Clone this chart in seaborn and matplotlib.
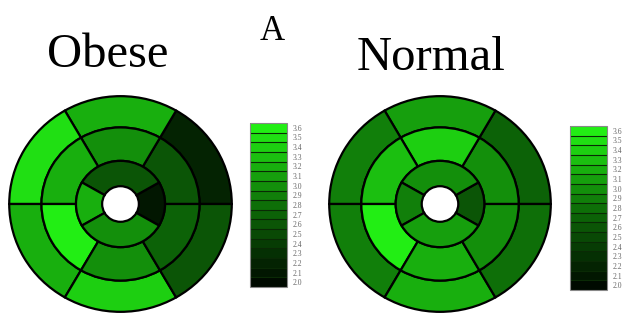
import numpy as np
import matplotlib
matplotlib.use("Agg")
import matplotlib.pyplot as plt
import seaborn as sns
from matplotlib.colors import ListedColormap, BoundaryNorm, LinearSegmentedColormap
from matplotlib.cm import ScalarMappable

sns.set_theme(style="white")
plt.rcParams["font.family"] = ["Liberation Serif", "DejaVu Serif"]

# Segment values, counter-clockwise from 3 o'clock
# outer / middle rings: six 60-degree segments starting at 0 deg
obese_outer = [2.2, 3.2, 3.5, 3.2, 3.4, 2.6]
obese_middle = [2.6, 3.0, 3.2, 3.6, 3.0, 2.7]
# inner ring: right, top, left, bottom
obese_inner = [2.1, 2.6, 3.2, 3.0]

normal_outer = [2.7, 3.1, 2.9, 2.9, 3.2, 2.8]
normal_middle = [3.0, 3.4, 3.3, 3.6, 3.2, 3.0]
normal_inner = [2.6, 3.0, 2.9, 3.1]

groups = ["Obese", "Normal"]
scale_ticks = [round(2.0 + 0.1 * i, 1) for i in range(17)]

# discrete black-to-green scale
base = LinearSegmentedColormap.from_list("bk_green", ["#000a00", "#0e6e08", "#22ee14"])
cmap = ListedColormap([base(i / 16) for i in range(17)])
bounds = np.arange(1.95, 3.66, 0.1)
norm = BoundaryNorm(bounds, cmap.N)

r_hole, r_inner, r_mid, r_out = 0.165, 0.40, 0.71, 1.0
ring_theta = np.deg2rad(np.arange(6) * 60 + 30)
ring_width = np.deg2rad(60)
inner_theta = np.deg2rad([0, 90, 180, 270])
inner_width = np.deg2rad([60, 120, 60, 120])


def bullseye(ax, outer, middle, inner):
    kw = dict(edgecolor="black", linewidth=1.6, align="center")
    ax.bar(ring_theta, r_out - r_mid, width=ring_width, bottom=r_mid,
           color=cmap(norm(outer)), **kw)
    ax.bar(ring_theta, r_mid - r_inner, width=ring_width, bottom=r_inner,
           color=cmap(norm(middle)), **kw)
    ax.bar(inner_theta, r_inner - r_hole, width=inner_width, bottom=r_hole,
           color=cmap(norm(inner)), **kw)
    ax.set_ylim(0, 1.02)
    ax.set_aspect("auto")
    ax.axis("off")


fig = plt.figure(figsize=(6.3, 3.22), dpi=100)
W, H = 630, 322

def frac(x0, y0, x1, y1):
    return [x0 / W, (H - y1) / H, (x1 - x0) / W, (y1 - y0) / H]

panels = [
    (obese_outer, obese_middle, obese_inner, frac(7, 94, 234, 314), frac(250, 123, 287, 287)),
    (normal_outer, normal_middle, normal_inner, frac(327, 94, 553, 314), frac(570, 126, 607, 290)),
]

for outer, middle, inner, pos, cpos in panels:
    ax = fig.add_axes(pos, projection="polar")
    bullseye(ax, outer, middle, inner)
    cax = fig.add_axes(cpos)
    cb = fig.colorbar(ScalarMappable(norm=norm, cmap=cmap), cax=cax,
                      ticks=scale_ticks, drawedges=True, boundaries=bounds)
    cb.dividers.set_color("#0a2a05")
    cb.dividers.set_linewidth(0.8)
    cb.outline.set_edgecolor("#888888")
    cb.outline.set_linewidth(0.8)
    cax.minorticks_off()
    cax.tick_params(which="both", length=0, pad=4, labelsize=5.5, labelcolor="#666666")
    cax.set_yticklabels([f"{t:.1f}" for t in scale_ticks])

fig.text(272 / W, 1 - 31 / H, "A", ha="center", va="center", fontsize=25, color="black")
fig.text(108 / W, 1 - 55 / H, groups[0], ha="center", va="center", fontsize=35, color="black")
fig.text(431 / W, 1 - 58 / H, groups[1], ha="center", va="center", fontsize=35, color="black")

fig.savefig("out.png", dpi=100, facecolor="white")
